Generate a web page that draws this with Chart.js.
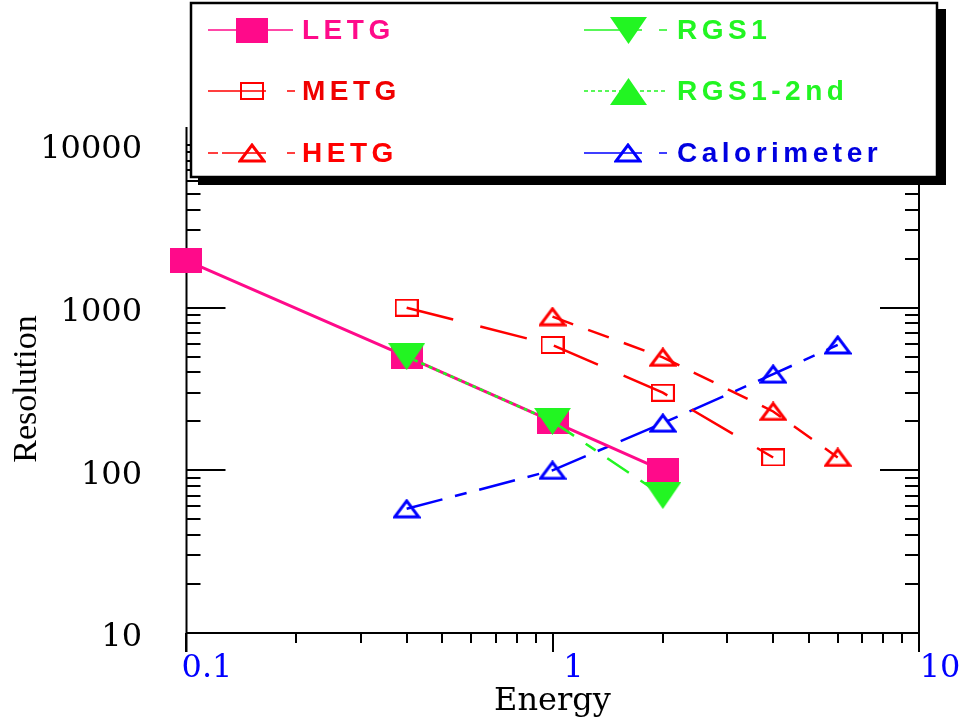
<!DOCTYPE html>
<html>
<head>
<meta charset="utf-8">
<script src="https://cdn.jsdelivr.net/npm/chart.js@4.4.1/dist/chart.umd.min.js"></script>
<style>
html,body{margin:0;padding:0;background:#fff;}
#wrap{width:965px;height:721px;position:relative;}
</style>
</head>
<body>
<div id="wrap"><canvas id="c" width="965" height="721"></canvas></div>
<script>
// ---- data ----
const letgEnergy = [0.1, 0.4, 1, 2];
const letgRes    = [1950, 500, 200, 100];
const metgEnergy = [0.4, 1, 2, 4];
const metgRes    = [1000, 590, 300, 120];
const hetgEnergy = [1, 2, 4, 6];
const hetgRes    = [880, 495, 230, 120];
const rgs1Energy = [0.4, 1, 2];
const rgs1Res    = [500, 200, 70];
const rgs2Energy = [];
const rgs2Res    = [];
const calEnergy  = [0.4, 1, 2, 4, 6];
const calRes     = [58, 100, 195, 390, 590];

const seriesNames = ['LETG', 'METG', 'HETG', 'RGS1', 'RGS1-2nd', 'Calorimeter'];
const xTickValues = [0.1, 1, 10];
const xTickLabels = ['0.1', '1', '10'];
const yTickValues = [10, 100, 1000, 10000];
const yTickLabels = ['10', '100', '1000', '10000'];
const xTitle = 'Energy';
const yTitle = 'Resolution';

// ---- styles ----
const MAG = '#ff0a8a', RED = '#ff0000', GRN = '#22f522', BLU = '#0000ff';

function pts(xs, ys) { return xs.map((x, i) => ({ x: x, y: ys[i] })); }
function mk(w, h, draw) {
  const c = document.createElement('canvas');
  c.width = w; c.height = h;
  draw(c.getContext('2d'), w, h);
  return c;
}
const mLETG = mk(32, 25, (g, w, h) => { g.fillStyle = MAG; g.fillRect(0, 0, w, h); });
const mRGSdown = mk(37, 27, (g, w, h) => {
  g.fillStyle = GRN; g.beginPath(); g.moveTo(0, 0); g.lineTo(w, 0); g.lineTo(w / 2, h); g.closePath(); g.fill();
});
const mRGSup = mk(37, 27, (g, w, h) => {
  g.fillStyle = GRN; g.beginPath(); g.moveTo(0, h); g.lineTo(w, h); g.lineTo(w / 2, 0); g.closePath(); g.fill();
});
const mMETG = mk(24, 18, (g, w, h) => { g.strokeStyle = RED; g.lineWidth = 2; g.strokeRect(1, 1, w - 2, h - 2); });
function openTri(color) {
  return mk(28, 20, (g, w, h) => {
    g.strokeStyle = color; g.lineWidth = 3; g.lineJoin = 'miter';
    g.beginPath(); g.moveTo(2, h - 2); g.lineTo(w - 2, h - 2); g.lineTo(w / 2, 2); g.closePath(); g.stroke();
  });
}
const mHETG = openTri(RED);
const mCAL = openTri(BLU);

const datasets = [
  { label: seriesNames[0], data: pts(letgEnergy, letgRes), borderColor: MAG, backgroundColor: MAG,
    borderWidth: 3, pointStyle: mLETG, order: 2, legendCol: 0, legendRow: 0, legendLine: 'solid', textColor: MAG },
  { label: seriesNames[1], data: pts(metgEnergy, metgRes), borderColor: RED, backgroundColor: RED,
    borderWidth: 2.5, borderDash: [48, 28], pointStyle: mMETG, order: 3, legendCol: 0, legendRow: 1, legendLine: 'solidDash', textColor: '#f00000' },
  { label: seriesNames[2], data: pts(hetgEnergy, hetgRes), borderColor: RED, backgroundColor: RED,
    borderWidth: 2.5, borderDash: [22, 16], pointStyle: mHETG, order: 3, legendCol: 0, legendRow: 2, legendLine: 'dashDash', textColor: RED },
  { label: seriesNames[3], data: pts(rgs1Energy, rgs1Res), borderColor: GRN, backgroundColor: GRN,
    borderWidth: 2.5, pointStyle: mRGSdown, order: 0, legendCol: 1, legendRow: 0, legendLine: 'solidDash', textColor: GRN,
    segment: { borderDash: c => c.p0DataIndex === 0 ? [4, 4] : [26, 14, 12, 14] } },
  { label: seriesNames[4], data: pts(rgs2Energy, rgs2Res), borderColor: GRN, backgroundColor: GRN,
    borderWidth: 2, borderDash: [4, 3], pointStyle: mRGSup, order: 1, legendCol: 1, legendRow: 1, legendLine: 'dotted', textColor: GRN },
  { label: seriesNames[5], data: pts(calEnergy, calRes), borderColor: BLU, backgroundColor: BLU,
    borderWidth: 2.5, borderDash: [37, 13, 12, 13], pointStyle: mCAL, order: 3, legendCol: 1, legendRow: 2, legendLine: 'solidDash', textColor: '#0000e0' }
].map(d => Object.assign({ showLine: true, fill: false, tension: 0, clip: false, pointRadius: 12, pointHoverRadius: 12 }, d));

// ---- axis lines & inward ticks ----
const axesPlugin = {
  id: 'axesPlugin',
  beforeDatasetsDraw(chart) {
    const { ctx, chartArea: a, scales: { x, y } } = chart;
    const L = Math.round(a.left) + 0.5, R = Math.round(a.right), B = Math.round(a.bottom), T = Math.round(a.top) - 18;
    ctx.save();
    ctx.strokeStyle = '#000';
    ctx.lineWidth = 2;
    ctx.beginPath();
    ctx.moveTo(L, T); ctx.lineTo(L, B + 19);
    ctx.moveTo(R, T); ctx.lineTo(R, B + 19);
    ctx.moveTo(L, B); ctx.lineTo(R, B);
    // x ticks (outward, down)
    [0.1, 1].forEach(d => {
      for (let k = 2; k <= 9; k++) {
        const px = Math.round(x.getPixelForValue(d * k));
        ctx.moveTo(px, B); ctx.lineTo(px, B + 10);
      }
    });
    xTickValues.forEach(v => {
      const px = Math.round(x.getPixelForValue(v));
      ctx.moveTo(px, B); ctx.lineTo(px, B + 19);
    });
    // y ticks (inward on both sides)
    [10, 100, 1000, 10000].forEach(d => {
      for (let k = 1; k <= 9; k++) {
        const v = d * k;
        if (v > y.max) break;
        const py = Math.round(y.getPixelForValue(v));
        const len = k === 1 ? 39 : 14;
        ctx.moveTo(L, py); ctx.lineTo(L + len, py);
        ctx.moveTo(R, py); ctx.lineTo(R - len, py);
      }
    });
    ctx.stroke();
    ctx.restore();
  }
};

// ---- boxed legend with shadow ----
const legendPlugin = {
  id: 'boxLegend',
  afterDraw(chart) {
    const ctx = chart.ctx;
    const bx = 191, by = 3, bw = 746, bh = 174;
    ctx.save();
    ctx.fillStyle = '#000';
    ctx.fillRect(bx + 7, by + bh, bw, 8);
    ctx.fillRect(bx + bw, by + 6, 9, bh + 2);
    ctx.fillStyle = '#fff';
    ctx.fillRect(bx, by, bw, bh);
    ctx.strokeStyle = '#000';
    ctx.lineWidth = 2.5;
    ctx.strokeRect(bx, by, bw, bh);

    const rows = [30, 91, 153];
    const cols = [
      { x0: 208, x1: 295, mx: 252, tx: 302 },
      { x0: 584, x1: 667, mx: 628, tx: 677 }
    ];
    chart.data.datasets.forEach(ds => {
      const c = cols[ds.legendCol], yy = rows[ds.legendRow];
      ctx.strokeStyle = ds.borderColor;
      ctx.lineWidth = 1.5;
      ctx.setLineDash([]);
      ctx.beginPath();
      if (ds.legendLine === 'solid') {
        ctx.moveTo(c.x0, yy); ctx.lineTo(c.x1 - 2, yy);
      } else if (ds.legendLine === 'solidDash') {
        ctx.moveTo(c.x0, yy); ctx.lineTo(c.mx + 14, yy);
        ctx.moveTo(c.x1 - 8, yy); ctx.lineTo(c.x1, yy);
      } else if (ds.legendLine === 'dashDash') {
        ctx.moveTo(c.x0, yy); ctx.lineTo(c.x0 + 10, yy);
        ctx.moveTo(c.x0 + 14, yy); ctx.lineTo(c.mx + 14, yy);
        ctx.moveTo(c.x1 - 8, yy); ctx.lineTo(c.x1, yy);
      } else {
        ctx.setLineDash([4, 3]);
        ctx.moveTo(c.x0, yy); ctx.lineTo(c.x1, yy);
      }
      ctx.stroke();
      ctx.setLineDash([]);
      const m = ds.pointStyle;
      ctx.drawImage(m, Math.round(c.mx - m.width / 2), Math.round(yy - m.height / 2));
      ctx.fillStyle = ds.textColor;
      ctx.font = 'bold 28px "Liberation Sans", Arial, sans-serif';
      ctx.letterSpacing = '4.5px';
      ctx.textAlign = 'left';
      ctx.textBaseline = 'middle';
      ctx.fillText(ds.label, c.tx, yy + 1);
      ctx.letterSpacing = '0px';
    });
    ctx.restore();
  }
};

new Chart(document.getElementById('c'), {
  type: 'scatter',
  data: { datasets: datasets },
  plugins: [axesPlugin, legendPlugin],
  options: {
    responsive: false,
    animation: false,
    devicePixelRatio: 1,
    layout: { padding: { left: 0, right: 46, top: 145, bottom: 0 } },
    plugins: { legend: { display: false }, tooltip: { enabled: false } },
    scales: {
      x: {
        type: 'logarithmic', min: 0.1, max: 10,
        grid: { display: false, drawTicks: false },
        border: { display: false },
        afterBuildTicks: s => { s.ticks = xTickValues.map(v => ({ value: v, major: true })); },
        afterFit: s => { s.height = 88; },
        ticks: {
          autoSkip: false, maxRotation: 0, padding: 16, labelOffset: 21,
          color: '#0000ff', font: { family: '"DejaVu Serif", serif', size: 32 },
          callback: v => { const i = xTickValues.indexOf(v); return i >= 0 ? xTickLabels[i] : ''; }
        },
        title: { display: true, text: xTitle, color: '#000', padding: { top: 0, bottom: 0 },
          font: { family: '"DejaVu Serif", serif', size: 32 } }
      },
      y: {
        type: 'logarithmic', min: 10, max: 10000,
        grid: { display: false, drawTicks: false },
        border: { display: false },
        afterBuildTicks: s => { s.ticks = yTickValues.map(v => ({ value: v, major: true })); },
        afterFit: s => { s.width = 186; },
        ticks: {
          autoSkip: false, padding: 44, labelOffset: 5, color: '#000',
          font: { family: '"DejaVu Serif", serif', size: 32 },
          callback: v => { const i = yTickValues.indexOf(v); return i >= 0 ? yTickLabels[i] : ''; }
        },
        title: { display: true, text: yTitle, color: '#000', padding: { top: 7, bottom: 0 },
          font: { family: '"Liberation Serif", "Times New Roman", serif', size: 34 } }
      }
    }
  }
});
</script>
</body>
</html>
